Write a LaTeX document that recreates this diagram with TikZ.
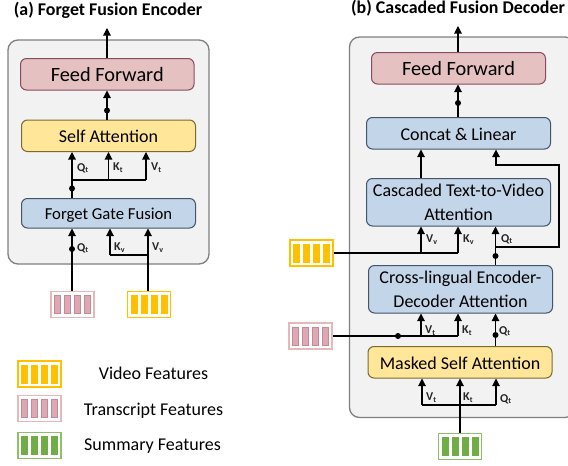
\documentclass[tikz,border=0pt]{standalone}
\usepackage{fontspec}
\setmainfont{Carlito}
\usetikzlibrary{arrows.meta}
\definecolor{panelfill}{HTML}{F2F2F2}
\definecolor{panelline}{HTML}{7F7F7F}
\definecolor{ffill}{HTML}{E6C1C1}
\definecolor{fline}{HTML}{8A4A62}
\definecolor{yfill}{HTML}{FFE699}
\definecolor{yline}{HTML}{7A6A30}
\definecolor{bfill}{HTML}{C3D5E8}
\definecolor{bline}{HTML}{44546A}
\definecolor{orangec}{HTML}{FFC000}
\definecolor{pinkb}{HTML}{E6B9B8}
\definecolor{pinkf}{HTML}{DDA8B0}
\definecolor{pinkl}{HTML}{C48A9C}
\definecolor{greenc}{HTML}{70AD47}
\definecolor{greenb}{HTML}{8CC168}
\tikzset{
  panel/.style={draw=panelline,fill=panelfill,line width=1.3pt,rounded corners=10pt},
  blockbox/.style={rounded corners=6pt,line width=1pt,inner sep=0pt,align=center,font=\fontsize{18}{24}\selectfont},
  ffbox/.style={blockbox,draw=fline,fill=ffill,font=\fontsize{20.3}{24}\selectfont},
  ybox/.style={blockbox,draw=yline,fill=yfill},
  bbox/.style={blockbox,draw=bline,fill=bfill},
  arr/.style={line width=1.05pt,-{Triangle[width=7.5pt,length=7.5pt]}},
  ln/.style={line width=1.05pt},
  jdot/.style={circle,fill=black,inner sep=0pt,minimum size=6pt},
  sub/.style={font=\fontsize{12}{12}\selectfont\bfseries,inner sep=0pt,text=black!85},
  title/.style={font=\fontsize{17.9}{18}\selectfont\bfseries,inner sep=0pt},
  legendtxt/.style={font=\fontsize{18}{18}\selectfont,inner sep=0pt},
  featbox/.style={rectangle,fill=white,line width=1.5pt,inner sep=0pt,minimum width=43pt,minimum height=26pt},
}
\newcommand{\blk}[7]{% name style x1 y1 x2 y2 text
  \node[#2,minimum width=#5pt-#3pt,minimum height=#6pt-#4pt] (#1) at ({(#3+#5)/2},{(#4+#6)/2}) {#7};}
\newcommand{\feat}[6]{% name cx cy border barfill barline
  \node[featbox,draw=#4] (#1) at (#2,#3) {};
  \foreach \d in {-15,-5,5,15}
    \fill[#5,draw=#6,line width=.4pt] ({#2+\d-3.1},{#3-9}) rectangle ({#2+\d+3.1},{#3+9});}
\newcommand{\subl}[4]{\node[sub,anchor=west] (#1) at (#2,#3) {#4};}
\newcommand{\dn}[2]{\raisebox{-#1pt}[\height][\depth]{#2}}
\begin{document}
\begin{tikzpicture}[x=1pt,y=-1pt]
\useasboundingbox (0,0) rectangle (568,466);
% titles
\node[title] (ta) at (108,10.5) {(a) Forget Fusion Encoder};
\node[title] (tb) at (458,8.5) {(b) Cascaded Fusion Decoder};
% panels
\draw[panel] (8,40) rectangle (209,264);
\draw[panel] (349.5,37) rectangle (575,417.5);
% blocks left
\blk{aff}{ffbox}{20.5}{58.5}{194}{90}{Feed Forward}
\blk{asa}{ybox}{21.5}{120}{195.5}{151.5}{\dn{1}{Self Attention}}
\blk{afg}{bbox,font=\fontsize{16.7}{24}\selectfont}{21.5}{198.5}{195.5}{228}{\dn{1.5}{Forget Gate Fusion}}
% blocks right
\blk{bff}{ffbox}{371.5}{52.5}{545.5}{84}{Feed Forward}
\blk{bcl}{bbox}{366.5}{117.5}{550.5}{149}{\dn{1}{Concat \& Linear}}
\blk{bct}{bbox}{366.5}{178.5}{550.5}{226}{Cascaded Text-to-Video\\Attention}
\blk{bcr}{bbox}{368.5}{265.5}{552.5}{313}{Cross-lingual Encoder-\\Decoder Attention}
\blk{bms}{ybox}{368}{346.5}{552}{378}{\dn{1}{Masked Self Attention}}
% feature boxes
\feat{ft}{72.5}{304.5}{pinkb}{pinkf}{pinkl}
\feat{fv}{149}{304.5}{orangec}{orangec}{orangec}
\feat{lv}{39.5}{374}{orangec}{orangec}{orangec}
\feat{lt}{39.5}{408.5}{pinkb}{pinkf}{pinkl}
\feat{ls}{39.5}{445.5}{greenb}{greenc}{greenc}
\feat{dv}{311.5}{253}{orangec}{orangec}{orangec}
\feat{dt}{310.5}{336}{pinkb}{pinkf}{pinkl}
\feat{ds}{460}{446.5}{greenb}{greenc}{greenc}
% legend
\node[legendtxt] (lvt) at (153.5,373.5) {Video Features};
\node[legendtxt] (ltt) at (153.5,411) {Transcript Features};
\node[legendtxt] (lst) at (152.5,446) {Summary Features};
% guide coordinates
\coordinate (a1) at (72,0); \coordinate (a2) at (108.5,0); \coordinate (a3) at (146,0);
\coordinate (a4) at (110,0); \coordinate (a5) at (148,0);
\coordinate (b1) at (421,0); \coordinate (b2) at (458,0); \coordinate (b3) at (495.5,0);
\coordinate (b4) at (422,0); \coordinate (b5) at (460,0); \coordinate (b6) at (496,0);
\coordinate (aout) at (107,28); \coordinate (bout) at (458,26);
\coordinate (ha) at (0,180); \coordinate (hb) at (0,255);
\coordinate (hc) at (0,247); \coordinate (hd) at (0,405); \coordinate (he) at (0,165);
\coordinate (rr) at (559,0); \coordinate (b7) at (496,0);
% connectors left
\draw[arr] (aff.north -| aout) -- (aout);
\draw[arr] (asa.north -| aout) -- (aff.south -| aout);
\node[jdot] (d1) at (107,110.5) {};
\draw[arr] (afg.north -| a1) -- (asa.south -| a1);
\draw[ln] (ha -| a1) -- (ha -| a3);
\draw[arr] (ha -| a2) -- (asa.south -| a2);
\draw[arr] (ha -| a3) -- (asa.south -| a3);
\node[jdot] (d2) at (72,188.5) {};
\draw[arr] (ft.north -| a1) -- (afg.south -| a1);
\node[jdot] (d3) at (72,249) {};
\draw[arr] (fv.north -| a5) -- (afg.south -| a5);
\draw[ln] (hb -| a5) -- (hb -| a4);
\draw[arr] (hb -| a4) -- (afg.south -| a4);
% connectors right
\draw[arr] (bff.north -| bout) -- (bout);
\draw[arr] (bcl.north -| bout) -- (bff.south -| bout);
\node[jdot] (d4) at (458,103) {};
\draw[arr] (bct.north -| b1) -- (bcl.south -| b1);
\draw[arr,rounded corners=0pt] (hc -| b3) -- (hc -| rr) -- (he -| rr) -- (he -| b7) -- (bcl.south -| b7);
\draw[arr] (bcr.north -| b3) -- (bct.south -| b3);
\node[jdot] (d5) at (495.5,256) {};
\draw[ln] (dv.east) -- (dv.east -| b2);
\draw[arr] (dv.east -| b1) -- (bct.south -| b1);
\draw[arr] (dv.east -| b2) -- (bct.south -| b2);
\draw[ln] (dt.east) -- (dt.east -| b2);
\draw[arr] (dt.east -| b1) -- (bcr.south -| b1);
\draw[arr] (dt.east -| b2) -- (bcr.south -| b2);
\node[jdot] (d6) at (398,336) {};
\draw[arr] (bms.north -| b3) -- (bcr.south -| b3);
\node[jdot] (d7) at (495.5,335) {};
\draw[ln] (hd -| b4) -- (hd -| b6);
\draw[arr] (hd -| b4) -- (bms.south -| b4);
\draw[arr] (hd -| b6) -- (bms.south -| b6);
\draw[arr] (ds.north -| b5) -- (bms.south -| b5);
% small labels
\subl{l1}{77}{168}{Q\textsubscript{t}}
\subl{l2}{113}{168}{K\textsubscript{t}}
\subl{l3}{151}{168}{V\textsubscript{t}}
\subl{l4}{77}{248}{Q\textsubscript{t}}
\subl{l5}{114}{248}{K\textsubscript{v}}
\subl{l6}{152}{248}{V\textsubscript{v}}
\subl{l7}{426}{240}{V\textsubscript{v}}
\subl{l8}{463}{240}{K\textsubscript{v}}
\subl{l9}{501}{239}{Q\textsubscript{t}}
\subl{l10}{425}{331}{V\textsubscript{t}}
\subl{l11}{462}{331}{K\textsubscript{t}}
\subl{l12}{499}{331}{Q\textsubscript{t}}
\subl{l13}{426}{398}{V\textsubscript{t}}
\subl{l14}{463}{398}{K\textsubscript{t}}
\subl{l15}{500}{399}{Q\textsubscript{t}}
\end{tikzpicture}
\end{document}
